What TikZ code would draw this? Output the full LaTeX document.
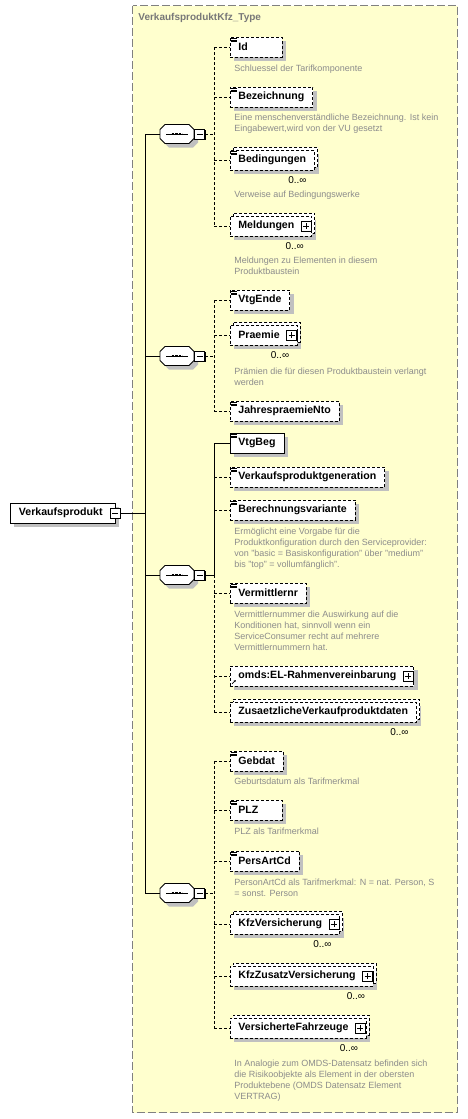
\documentclass[tikz,border=0pt]{standalone}
\usepackage{fontspec}
\setmainfont{Liberation Sans}
\usetikzlibrary{arrows.meta,positioning,shadows}
\definecolor{SchemaYellow}{RGB}{255,255,206}
\definecolor{FrameGray}{RGB}{128,128,128}
\definecolor{TitleGray}{RGB}{120,120,120}
\definecolor{DocGray}{RGB}{140,140,140}
\definecolor{ShadowGray}{RGB}{192,192,192}

\begin{document}
\begin{tikzpicture}[x=1pt,y=-1pt,line width=0.8pt,
  elem/.style={draw,fill=white,anchor=west,minimum height=20pt,inner xsep=8.5pt,inner ysep=0pt,
    font=\fontsize{10.6}{12}\selectfont\bfseries,
    drop shadow={shadow xshift=4pt,shadow yshift=-4pt,fill=ShadowGray,opacity=1}},
  opt/.style={dash pattern=on 3pt off 2pt},
  multi/.style={copy shadow={shadow xshift=3pt,shadow yshift=3pt,draw=black,fill=white,opacity=1,dash pattern=on 3pt off 2pt}},
  short/.style={text width=35pt,align=left},
  pmbox/.style={draw,fill=white,minimum size=10pt,inner sep=0pt,
    drop shadow={shadow xshift=1pt,shadow yshift=-1pt,fill=black,opacity=1}},
  minus/.style={pmbox,path picture={\draw ([xshift=2pt]path picture bounding box.west) -- ([xshift=-2pt]path picture bounding box.east);}},
  plus/.style={pmbox,path picture={\draw ([xshift=2pt]path picture bounding box.west) -- ([xshift=-2pt]path picture bounding box.east);
    \draw ([yshift=2pt]path picture bounding box.south) -- ([yshift=-2pt]path picture bounding box.north);}},
  seq/.style={minimum width=34pt,minimum height=19pt,inner sep=0pt},
  doc/.style={anchor=north west,align=left,inner sep=0pt,text=DocGray,font=\fontsize{9}{11}\selectfont},
  mult/.style={anchor=north east,inner sep=1pt,font=\fontsize{10}{12}\selectfont}
]
\useasboundingbox (0,0) rectangle (468,1119);
\draw[FrameGray,line width=1pt,dash pattern=on 8pt off 3pt,fill=SchemaYellow] (132.5,5.5) rectangle (457.5,1112.5);
\node[anchor=west,inner sep=0pt,text=TitleGray,font=\fontsize{10}{12}\selectfont\bfseries] (ttl) at (138,18) {VerkaufsproduktKfz\_Type};

\node[elem] (vp) at (10,513) {Verkaufsprodukt\kern4pt};
\node[minus] (vpm) at (vp.east) {};

\node[seq] (s1) at (177,134) {};
\node[seq] (s2) at (177,356) {};
\node[seq] (s3) at (177,575) {};
\node[seq] (s4) at (177,893) {};
\foreach \s in {s1,s2,s3,s4}{
  \fill[ShadowGray] ([shift={(4,4)}]\s.center) ++(-17,-4.5) -- ++(5,-5) -- ++(24,0) -- ++(5,5) -- ++(0,9) -- ++(-5,5) -- ++(-24,0) -- ++(-5,-5) -- cycle;
  \draw[fill=white] (\s.center) ++(-17,-4.5) -- ++(5,-5) -- ++(24,0) -- ++(5,5) -- ++(0,9) -- ++(-5,5) -- ++(-24,0) -- ++(-5,-5) -- cycle;
  \draw (\s.center) ++(-11,0) -- ++(22,0);
  \draw[line width=2.6pt,dash pattern=on 2.4pt off 1.2pt] ([xshift=-5.4pt]\s.center) -- ([xshift=5.4pt]\s.center);
  \node[minus,anchor=west] (\s m) at (\s.east) {};
  \coordinate (\s b) at ([xshift=9pt]\s m.east);
}

\node[elem,opt,short] (id) at (229.5,47) {Id};
\node[elem,opt] (bez) at (229.5,97) {Bezeichnung};
\node[elem,opt,multi] (bed) at (229.5,160) {Bedingungen};
\node[elem,opt,multi] (meld) at (229.5,226) {Meldungen\kern9pt};

\node[elem,opt] (vtgende) at (229.5,300) {VtgEnde};
\node[elem,opt,multi] (praemie) at (229.5,335) {Praemie\kern9pt};
\node[elem,opt] (jpn) at (229.5,411) {JahrespraemieNto};

\node[elem] (vtgbeg) at (229.5,443) {VtgBeg};
\node[elem,opt] (vpg) at (229.5,477) {Verkaufsproduktgeneration};
\node[elem,opt] (bv) at (229.5,510) {Berechnungsvariante};
\node[elem,opt] (vnr) at (229.5,593) {Vermittlernr};
\node[elem,opt] (rv) at (229.5,676) {omds:EL-Rahmenvereinbarung\kern9pt};
\node[elem,opt,multi] (zvd) at (229.5,712) {ZusaetzlicheVerkaufproduktdaten};

\node[elem,opt] (gebdat) at (229.5,761) {Gebdat};
\node[elem,opt,short] (plz) at (229.5,810) {PLZ};
\node[elem,opt] (pac) at (229.5,861) {PersArtCd};
\node[elem,opt,multi] (kfzv) at (229.5,924) {KfzVersicherung\kern9pt};
\node[elem,opt,multi] (kfzzv) at (229.5,976) {KfzZusatzVersicherung\kern9pt};
\node[elem,opt,multi] (vf) at (229.5,1028) {VersicherteFahrzeuge\kern9pt};

\foreach \c in {meld,praemie,rv,kfzv,kfzzv,vf}
  \node[plus] (\c p) at ([xshift=-6pt]\c.east) {};
\foreach \c in {bed,meld,praemie,zvd,kfzv,kfzzv,vf}
  \node[mult] (\c mult) at ([xshift=-7pt,yshift=-5pt]\c.south east) {0..∞};
\foreach \c in {id,bez,bed,vtgende,jpn,vtgbeg,vpg,bv,vnr,gebdat,plz,pac}
  \foreach \k in {1.5,3.2,4.9}
    \draw[line width=0.6pt] ([xshift=1pt,yshift=-\k pt]\c.north west) -- ++(6,0);
\draw[line width=0.6pt,-{Latex[length=2.2pt,width=2.2pt]}] ([xshift=2.5pt,yshift=2.5pt]rv.south west) -- ++(4,-4);

\node[doc] (iddoc) at (234,64.5) {Schluessel der Tarifkomponente};
\node[doc] (bezdoc) at (234,113.5) {Eine menschenverständliche Bezeichnung. Ist kein\\Eingabewert,wird von der VU gesetzt};
\node[doc] (beddoc) at (234,190.5) {Verweise auf Bedingungswerke};
\node[doc] (melddoc) at (234,256.5) {Meldungen zu Elementen in diesem\\Produktbaustein};
\node[doc] (praemiedoc) at (234,367.5) {Prämien die für diesen Produktbaustein verlangt\\werden};
\node[doc] (bvdoc) at (234,527.5) {Ermöglicht eine Vorgabe für die\\Produktkonfiguration durch den Serviceprovider:\\von "basic = Basiskonfiguration" über "medium"\\bis "top" = vollumfänglich".};
\node[doc] (vnrdoc) at (234,610.5) {Vermittlernummer die Auswirkung auf die\\Konditionen hat, sinnvoll wenn ein\\ServiceConsumer recht auf mehrere\\Vermittlernummern hat.};
\node[doc] (gebdatdoc) at (234,777.5) {Geburtsdatum als Tarifmerkmal};
\node[doc] (plzdoc) at (234,827.5) {PLZ als Tarifmerkmal};
\node[doc] (pacdoc) at (234,878.5) {PersonArtCd als Tarifmerkmal: N = nat. Person, S\\= sonst. Person};
\node[doc] (vfdoc) at (234,1059.5) {In Analogie zum OMDS-Datensatz befinden sich\\die Risikoobjekte als Element in der obersten\\Produktebene (OMDS Datensatz Element\\VERTRAG)};

\coordinate (tr) at (145,513);
\draw (vpm.east) -- (tr);
\draw (s1.west -| tr) -- (s4.west -| tr);
\foreach \s in {s1,s2,s3,s4}
  \draw (\s.west -| tr) -- (\s.west);

\draw[opt] (s1m.east) -- (s1b);
\draw[opt] (id.west -| s1b) -- (meld.west -| s1b);
\foreach \c in {id,bez,bed,meld}
  \draw[opt] (\c.west -| s1b) -- (\c.west);

\draw[opt] (s2m.east) -- (s2b);
\draw[opt] (vtgende.west -| s2b) -- (jpn.west -| s2b);
\foreach \c in {vtgende,praemie,jpn}
  \draw[opt] (\c.west -| s2b) -- (\c.west);

\draw (s3m.east) -- (s3b);
\draw (vtgbeg.west -| s3b) -- (s3b);
\draw (vtgbeg.west -| s3b) -- (vtgbeg.west);
\draw[opt] (s3b) -- (zvd.west -| s3b);
\foreach \c in {vpg,bv,vnr,rv,zvd}
  \draw[opt] (\c.west -| s3b) -- (\c.west);

\draw[opt] (s4m.east) -- (s4b);
\draw[opt] (gebdat.west -| s4b) -- (vf.west -| s4b);
\foreach \c in {gebdat,plz,pac,kfzv,kfzzv,vf}
  \draw[opt] (\c.west -| s4b) -- (\c.west);
\end{tikzpicture}
\end{document}
